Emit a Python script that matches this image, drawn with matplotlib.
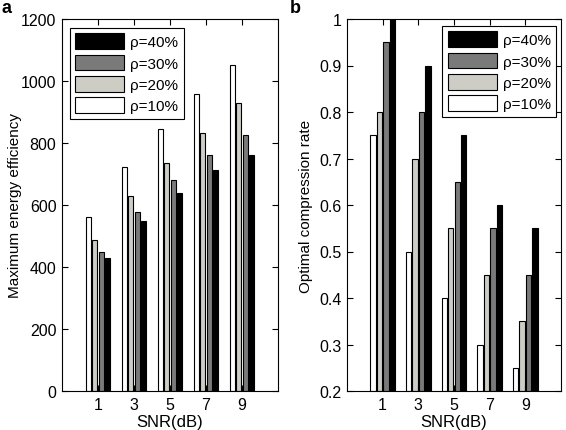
import matplotlib.pyplot as plt
import numpy as np

plt.rcParams['font.family'] = ['Liberation Sans', 'DejaVu Sans']

# data
snr = [1, 3, 5, 7, 9]
labels = ['ρ=10%', 'ρ=20%', 'ρ=30%', 'ρ=40%']
colors = ['#ffffff', '#cdcdc6', '#7a7a7a', '#000000']

energy_10 = [560, 722, 846, 958, 1053]
energy_20 = [487, 630, 736, 833, 928]
energy_30 = [447, 578, 680, 760, 825]
energy_40 = [430, 550, 638, 712, 760]

rate_10 = [0.75, 0.50, 0.40, 0.30, 0.25]
rate_20 = [0.80, 0.70, 0.55, 0.45, 0.35]
rate_30 = [0.95, 0.80, 0.65, 0.55, 0.45]
rate_40 = [1.00, 0.90, 0.75, 0.60, 0.55]

energy = [energy_10, energy_20, energy_30, energy_40]
rate = [rate_10, rate_20, rate_30, rate_40]

fig = plt.figure(figsize=(5.66, 4.31), dpi=100)
ax1 = fig.add_axes([62 / 566, 39 / 431, 216 / 566, 372 / 431])
ax2 = fig.add_axes([347 / 566, 39 / 431, 214 / 566, 372 / 431])

x = np.array(snr, dtype=float)
group_w = 2 * 4 / 5.5
slot = group_w / 4
bar_w = slot * 0.8


def draw(ax, series, bottom, top, yticks):
    handles = []
    for i, vals in enumerate(series):
        offs = (i - 1.5) * slot
        h = ax.bar(x + offs, np.array(vals) - bottom, bar_w, bottom=bottom,
                   color=colors[i], edgecolor='black', linewidth=0.8,
                   label=labels[i])
        handles.append(h)
    ax.set_xlim(-1, 11)
    ax.set_ylim(bottom, top)
    ax.set_xticks(snr)
    ax.set_yticks(yticks)
    ax.tick_params(direction='in', top=True, right=True, labelsize=11.5,
                   length=4, width=0.8, pad=4)
    for s in ax.spines.values():
        s.set_linewidth(0.8)
    ax.set_xlabel('SNR(dB)', fontsize=12, labelpad=2)
    return handles


h1 = draw(ax1, energy, 0, 1200, [0, 200, 400, 600, 800, 1000, 1200])
ax1.set_ylabel('Maximum energy efficiency', fontsize=11)
ax1.yaxis.set_label_coords(-0.185, 0.5)
h2 = draw(ax2, rate, 0.2, 1.0, [0.2, 0.3, 0.4, 0.5, 0.6, 0.7, 0.8, 0.9, 1.0])
ax2.set_yticklabels(['0.2', '0.3', '0.4', '0.5', '0.6', '0.7', '0.8', '0.9', '1'])
ax2.set_ylabel('Optimal compression rate', fontsize=11)
ax2.yaxis.set_label_coords(-0.16, 0.5)

leg_kw = dict(fontsize=11, handlelength=3.2, handleheight=1.2,
              labelspacing=0.35, handletextpad=0.4, borderpad=0.35,
              borderaxespad=0, fancybox=False, framealpha=1,
              edgecolor='black')
lg1 = ax1.legend(h1[::-1], labels[::-1], loc='upper left',
                 bbox_to_anchor=(8 / 216, 1 - 9 / 372), **leg_kw)
lg2 = ax2.legend(h2[::-1], labels[::-1], loc='upper right',
                 bbox_to_anchor=(1 - 5 / 214, 1 - 7 / 372), **leg_kw)
for lg in (lg1, lg2):
    lg.get_frame().set_linewidth(0.8)

fig.text(2 / 566, 1 - 13 / 431, 'a', fontsize=13, fontweight='bold')
fig.text(290 / 566, 1 - 13 / 431, 'b', fontsize=13, fontweight='bold')

plt.savefig('out.png', dpi=100)
